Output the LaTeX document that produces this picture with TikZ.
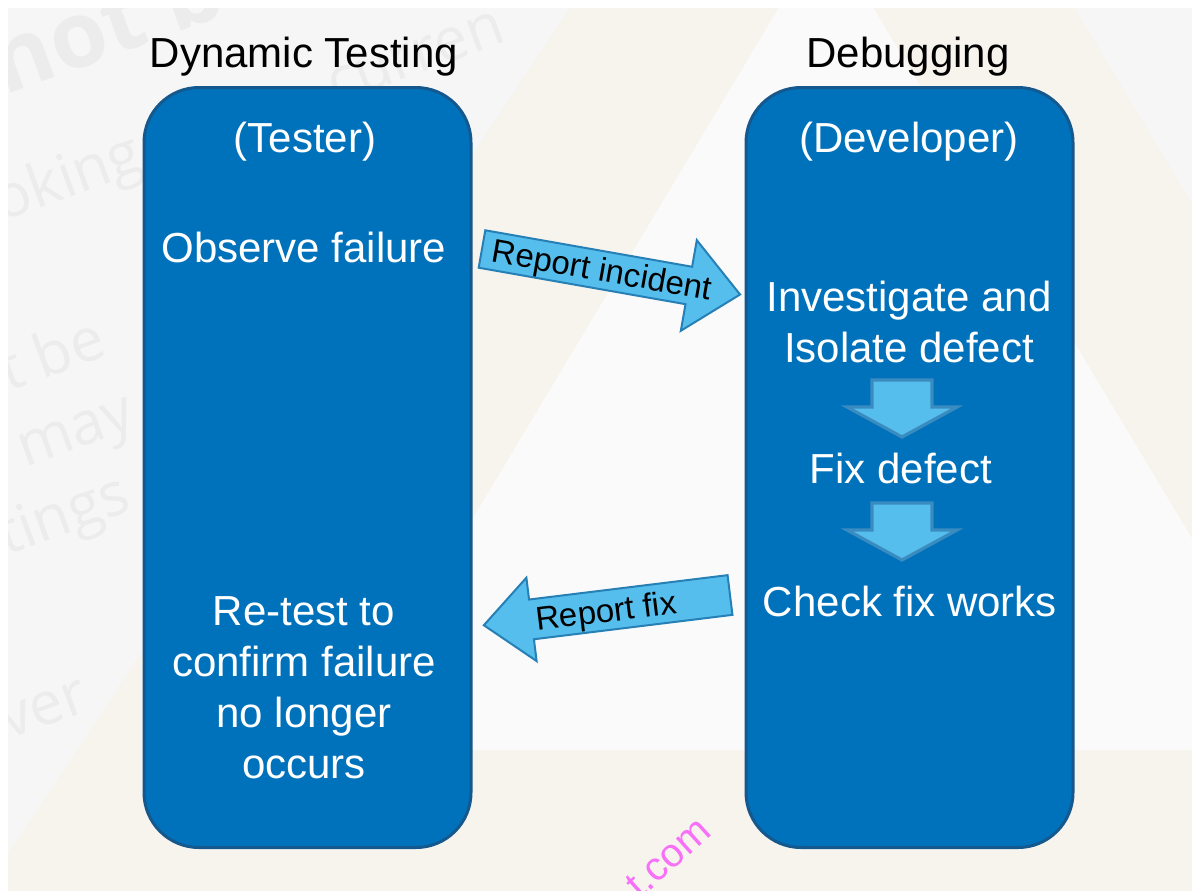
\documentclass[tikz,border=0pt]{standalone}
\usepackage{fontspec}
\setmainfont{Liberation Sans}
\newfontfamily\ghostfont{Open Sans}
\usetikzlibrary{calc}

\definecolor{boxblue}{RGB}{0,114,187}
\definecolor{boxedge}{RGB}{20,88,142}
\definecolor{callfill}{RGB}{86,190,237}
\definecolor{calledge}{RGB}{38,128,182}
\definecolor{stepedge}{RGB}{58,140,192}
\definecolor{bggrey}{RGB}{246,246,246}
\definecolor{bgcream}{RGB}{247,244,238}
\definecolor{bgwhite}{RGB}{250,250,250}
\definecolor{ghost}{RGB}{236,236,236}
\definecolor{stamp}{RGB}{248,112,248}

\begin{document}
\begin{tikzpicture}[x=0.5pt,y=-0.5pt,
  lane/.style={draw=boxedge, line width=1.5pt, fill=boxblue,
    rounded corners=27.5pt, inner sep=0pt, minimum width=163.5pt, minimum height=380pt},
  heading/.style={font=\fontsize{21}{25.5}\selectfont, text=black, inner sep=0pt},
  lanetext/.style={font=\fontsize{21}{25.5}\selectfont, text=white, align=center, inner sep=0pt},
  callout/.style={fill=callfill, draw=calledge, line width=1pt, line join=miter},
  calltext/.style={font=\fontsize{16.5}{18}\selectfont, text=black, inner sep=0pt},
  stepdown/.style={fill=callfill, draw=stepedge, line width=1.6pt, line join=miter},
  ghosttext/.style={font=\ghostfont\fontsize{30}{30}\selectfont, text=ghost, anchor=base west, rotate=20, inner sep=0pt}
]
\useasboundingbox (0,0) rectangle (1192,890);

% slide background with faint triangle and leftover words
\fill[white] (0,0) rectangle (1192,890);
\begin{scope}
  \clip (8,8) rectangle (1192,890);
  \fill[bggrey] (8,8) rectangle (1192,890);
  \fill[bgcream] (835,-391) -- (-23,900) -- (1610,900) -- cycle;
  \fill[bgwhite] (826,-71) -- (334,750) -- (1319,750) -- cycle;
  \node[ghosttext, font=\ghostfont\bfseries\fontsize{46}{46}\selectfont] (g1) at (4,96) {not be};
  \node[ghosttext] (g2) at (335,104) {curren};
  \node[ghosttext] (g3) at (2,222) {oking};
  \node[ghosttext] (g4) at (8,392) {t be};
  \node[ghosttext] (g5) at (25,468) {may};
  \node[ghosttext] (g6) at (6,556) {tings};
  \node[ghosttext] (g7) at (8,740) {ver};
\end{scope}

% column headings
\node[heading, anchor=base] (htest) at (304,67) {Dynamic Testing};
\node[heading, anchor=base] (hdebug) at (908,67) {Debugging};

% the two role columns
\node[lane] (tester) at (307.5,467.5) {};
\node[lane] (developer) at (909.5,467.5) {};

% tester column
\node[lanetext, anchor=base] (trole) at (305,152) {(Tester)};
\node[lanetext, anchor=base] (observe) at (304,262) {Observe failure};
\node[lanetext, anchor=north] (retest) at (304,596)
  {Re-test to\\confirm failure\\no longer\\occurs};

% developer column
\node[lanetext, anchor=base] (drole) at (909,152) {(Developer)};
\node[lanetext, anchor=north] (isolate) at (909,281)
  {Investigate and\\Isolate defect};
\node[lanetext, anchor=base] (fix) at (901,483) {Fix defect};
\node[lanetext, anchor=base] (check) at (910,616) {Check fix works};

% step arrows inside the developer column
\coordinate (s1) at (902,380);
\coordinate (s2) at (902,503);
\foreach \s in {s1,s2}{
  \filldraw[stepdown, shift={(\s)}]
    (-30,0) -- (30,0) -- (30,27) -- (55,27) -- (0,57) -- (-55,27) -- (-30,27) -- cycle;
}

% hand-over arrows between the columns
\begin{scope}[shift={(482,249)}, rotate=-10]
  \filldraw[callout] (0,-19) -- (210,-19) -- (210,-46) -- (262,0) -- (210,46) -- (210,19) -- (0,19) -- cycle;
  \node[calltext, anchor=base, rotate=-10] (repinc) at (122,11) {Report incident};
\end{scope}
\begin{scope}[shift={(730,595)}, rotate=7]
  \filldraw[callout] (0,-20) -- (-200,-20) -- (-200,-42) -- (-248,0) -- (-200,42) -- (-200,20) -- (0,20) -- cycle;
  \node[calltext, anchor=base, rotate=7] (repfix) at (-125,12) {Report fix};
\end{scope}

% site stamp
\begin{scope}
  \clip (0,0) rectangle (1192,890);
  \node[font=\fontsize{20}{20}\selectfont, text=stamp, anchor=base west, rotate=42, inner sep=0pt] (stamp) at (640,900) {t.com};
\end{scope}
\end{tikzpicture}
\end{document}
